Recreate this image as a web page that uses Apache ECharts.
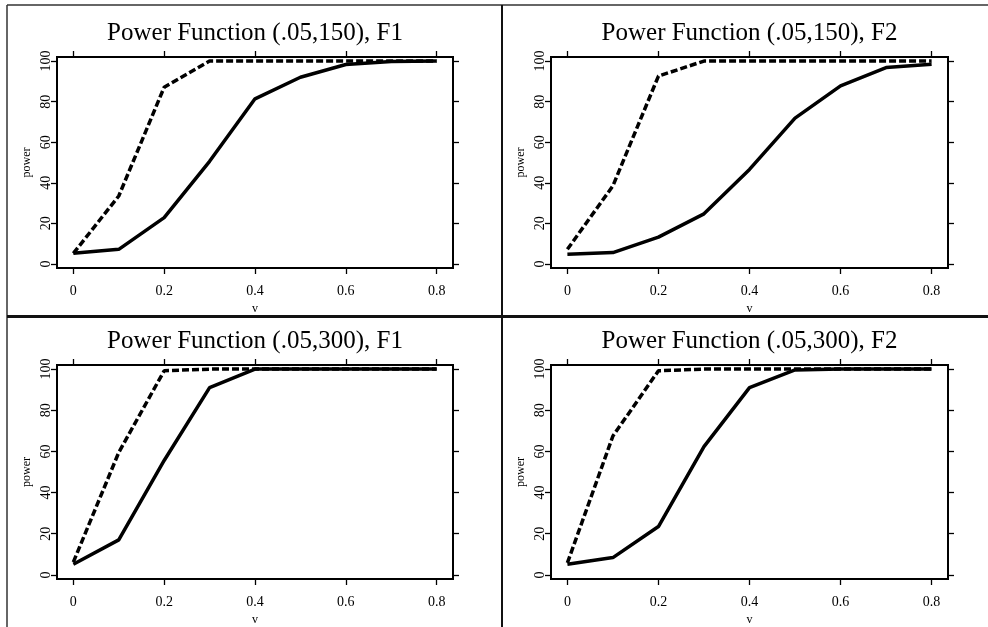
<!DOCTYPE html>
<html><head><meta charset="utf-8">
<script src="https://cdn.jsdelivr.net/npm/echarts@6/dist/echarts.min.js"></script>
<style>html,body{margin:0;padding:0;background:#fff}#c{width:988px;height:627px}</style>
</head><body><div id="c"></div>
<script>
// ---- data ----
const vValues = [0, 0.1, 0.2, 0.3, 0.4, 0.5, 0.6, 0.7, 0.8];
const xTicks = [0, 0.2, 0.4, 0.6, 0.8];
const yTicks = [0, 20, 40, 60, 80, 100];
const panelTitles = [
  'Power Function (.05,150), F1',
  'Power Function (.05,150), F2',
  'Power Function (.05,300), F1',
  'Power Function (.05,300), F2'
];
const xName = 'v';
const yName = 'power';
const solid150F1  = [5.3, 7.2, 22.8, 50.6, 81.4, 92.0, 98.3, 99.8, 100];
const dashed150F1 = [5.2, 33.5, 87.1, 100, 100, 100, 100, 100, 100];
const solid150F2  = [4.8, 5.6, 13.2, 24.7, 46.6, 71.9, 87.8, 96.8, 98.4];
const dashed150F2 = [7.2, 38.5, 92.6, 100, 100, 100, 100, 100, 100];
const solid300F1  = [5.2, 17.0, 55.6, 91.0, 100, 100, 100, 100, 100];
const dashed300F1 = [6.2, 59.5, 99.2, 100, 100, 100, 100, 100, 100];
const solid300F2  = [5.2, 8.4, 23.5, 62.3, 91.0, 99.6, 100, 100, 100];
const dashed300F2 = [5.8, 67.5, 99.2, 100, 100, 100, 100, 100, 100];
const solidSeries = [solid150F1, solid150F2, solid300F1, solid300F2];
const dashedSeries = [dashed150F1, dashed150F2, dashed300F1, dashed300F2];

// ---- layout ----
const grids = [
  {left: 57, top: 57, width: 396, height: 211},
  {left: 551, top: 57, width: 397, height: 211},
  {left: 57, top: 365, width: 396, height: 215},
  {left: 551, top: 365, width: 397, height: 215}
];
const FONT = 'Liberation Serif, Times New Roman, serif';
const xMin = -0.036, xMax = 0.836, yMin = -2, yMax = 102;

const chart = echarts.init(document.getElementById('c'), null, {renderer: 'canvas'});
const xAxes = [], yAxes = [], series = [], graphics = [];
const tickStyle = {color: '#000', width: 1.3};

grids.forEach((g, i) => {
  const common = {
    gridIndex: i, type: 'value', splitLine: {show: false},
    axisLine: {show: false, onZero: false}
  };
  xAxes.push(Object.assign({}, common, {
    position: 'bottom', min: xMin, max: xMax,
    axisTick: {show: true, customValues: xTicks, length: 6, lineStyle: tickStyle},
    axisLabel: {show: true, customValues: xTicks, margin: 16, color: '#000', fontFamily: FONT, fontSize: 14},
    name: xName, nameLocation: 'middle', nameGap: 35,
    nameTextStyle: {color: '#000', fontFamily: FONT, fontSize: 12}
  }));
  xAxes.push(Object.assign({}, common, {
    position: 'top', min: xMin, max: xMax,
    axisTick: {show: true, customValues: xTicks, length: 6, lineStyle: tickStyle},
    axisLabel: {show: false}
  }));
  yAxes.push(Object.assign({}, common, {
    position: 'left', min: yMin, max: yMax,
    axisTick: {show: true, customValues: yTicks, length: 6, lineStyle: tickStyle},
    axisLabel: {show: true, customValues: yTicks, rotate: 90, margin: 4, color: '#000', fontFamily: FONT, fontSize: 14},
    name: yName, nameLocation: 'middle', nameGap: 24, nameRotate: 90,
    nameTextStyle: {color: '#000', fontFamily: FONT, fontSize: 12}
  }));
  yAxes.push(Object.assign({}, common, {
    position: 'right', min: yMin, max: yMax,
    axisTick: {show: true, customValues: yTicks, length: 6, lineStyle: tickStyle},
    axisLabel: {show: false}
  }));
  series.push({
    type: 'line', xAxisIndex: 2 * i, yAxisIndex: 2 * i, symbol: 'none',
    data: vValues.map((v, j) => [v, solidSeries[i][j]]),
    lineStyle: {color: '#000', width: 3.5, type: 'solid'}, z: 2
  });
  series.push({
    type: 'line', xAxisIndex: 2 * i, yAxisIndex: 2 * i, symbol: 'none',
    data: vValues.map((v, j) => [v, dashedSeries[i][j]]),
    lineStyle: {color: '#000', width: 3.5, type: [7, 3]}, z: 3
  });
  graphics.push({
    type: 'text',
    x: g.left + g.width / 2, y: g.top - 24,
    style: {text: panelTitles[i], fill: '#000', font: '25px ' + FONT, textAlign: 'center', textVerticalAlign: 'middle'}
  });
});

// panel frame lines
const frameColor = '#333';
graphics.push(
  {type: 'line', shape: {x1: 7, y1: 5, x2: 988, y2: 5}, style: {stroke: frameColor, lineWidth: 1.5}},
  {type: 'line', shape: {x1: 7, y1: 5, x2: 7, y2: 627}, style: {stroke: frameColor, lineWidth: 1.5}},
  {type: 'line', shape: {x1: 502, y1: 5, x2: 502, y2: 627}, style: {stroke: '#111', lineWidth: 2}},
  {type: 'line', shape: {x1: 7, y1: 316.5, x2: 988, y2: 316.5}, style: {stroke: '#111', lineWidth: 3}}
);

chart.setOption({
  animation: false,
  backgroundColor: '#fff',
  grid: grids.map(g => Object.assign({}, g, {show: true, borderColor: '#000', borderWidth: 2, backgroundColor: 'transparent', containLabel: false})),
  xAxis: xAxes,
  yAxis: yAxes,
  series: series,
  graphic: graphics
});
</script>
</body></html>
